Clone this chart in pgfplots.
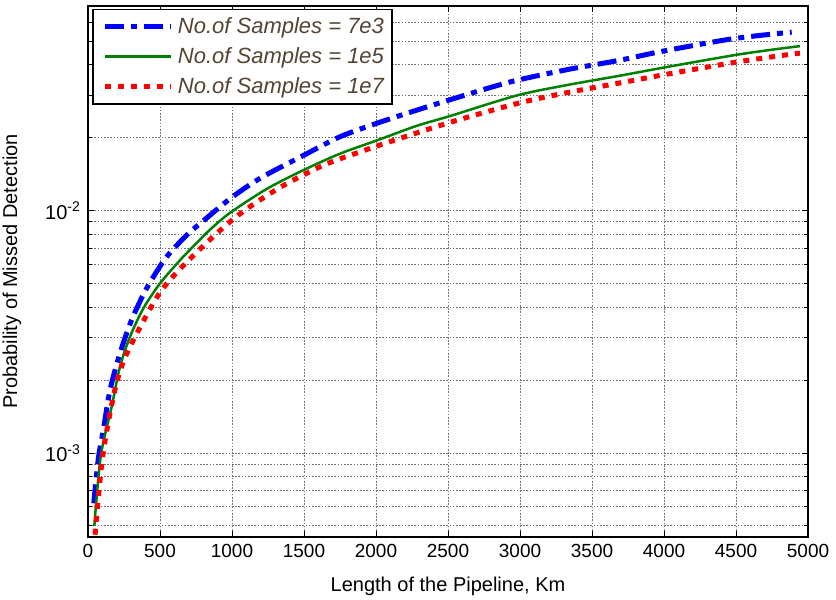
\documentclass[border=0pt]{standalone}
\usepackage{pgfplots}
\pgfplotsset{compat=1.18}
\usepackage{fontspec}
\setmainfont{Liberation Sans}
\usetikzlibrary{calc}
\definecolor{legtext}{RGB}{85,68,51}
\definecolor{mgreen}{RGB}{0,128,0}
\begin{document}
\begin{tikzpicture}
\begin{axis}[
  scale only axis, width=360pt, height=265.5pt,
  xmin=0, xmax=5000, ymin=4.5e-4, ymax=7e-2, ymode=log,
  xtick={0,500,...,5000},
  scaled x ticks=false,
  /pgf/number format/1000 sep={},
  /pgf/number format/assume math mode=true,
  ytick={1e-3,1e-2},
  yticklabels={10\textsuperscript{-3},10\textsuperscript{-2}},
  minor ytick={5e-4,6e-4,7e-4,8e-4,9e-4,2e-3,3e-3,4e-3,5e-3,6e-3,7e-3,8e-3,9e-3,2e-2,3e-2,4e-2,5e-2,6e-2,7e-2},
  grid=both,
  major grid style={dash pattern=on 0.8pt off 0.8pt, black!55, line width=0.5pt},
  minor grid style={dash pattern=on 0.8pt off 0.8pt, black!55, line width=0.5pt},
  tick align=inside,
  major tick length=3pt, minor tick length=2pt,
  tick style={black, line width=0.5pt},
  axis line style={black, line width=0.8pt},
  ticklabel style={font=\fontsize{9.5}{11}\selectfont},
  yticklabel style={font=\fontsize{10}{12}\selectfont},
  xlabel={Length of the Pipeline, Km},
  ylabel={Probability of Missed Detection},
  xlabel style={font=\fontsize{10}{12}\selectfont, at={(axis description cs:0.5,-0.062)}, anchor=north},
  ylabel style={font=\fontsize{10}{12}\selectfont, at={(axis description cs:-0.083,0.5)}, anchor=south},
  legend style={at={(axis description cs:0.006,0.995)}, anchor=north west,
    font=\fontsize{11}{13}\selectfont\itshape, text=legtext,
    draw=black, line width=0.6pt, fill=white, inner sep=2pt, row sep=1.5pt},
  legend cell align=left,
  legend image code/.code={\path (0pt,0pt); \draw[#1] (3pt,0pt) -- (36pt,0pt);},
]
\addplot[blue, line width=2.5pt, dash pattern=on 9.5pt off 3.5pt on 3pt off 3.5pt, smooth] coordinates {
(40,6.2e-4) (72,9.5e-4) (106,1.24e-3) (153,1.82e-3) (222,2.58e-3) (303,3.54e-3)
(407,4.78e-3) (546,6.45e-3) (708,8.18e-3) (778,8.85e-3) (986,1.12e-2) (1194,1.36e-2)
(1495,1.69e-2) (1750,2.02e-2) (2028,2.32e-2) (2282,2.6e-2) (2537,2.9e-2)
(2931,3.4e-2) (3324,3.82e-2) (3683,4.17e-2) (3995,4.56e-2) (4481,5.13e-2) (4887,5.46e-2)
};
\addlegendentry{No.of Samples = 7e3}
\addplot[mgreen, line width=1.25pt, smooth] coordinates {
(44,5.0e-4) (88,9.65e-4) (164,1.55e-3) (222,2.27e-3) (292,3.02e-3) (384,3.95e-3)
(500,5.01e-3) (639,6.25e-3) (708,6.9e-3) (778,7.6e-3) (847,8.35e-3) (986,9.8e-3)
(1241,1.23e-2) (1495,1.47e-2) (1750,1.72e-2) (2005,1.95e-2) (2282,2.24e-2) (2514,2.46e-2)
(2977,2.99e-2) (3324,3.3e-2) (3683,3.6e-2) (4019,3.92e-2) (4481,4.38e-2)
(4713,4.59e-2) (4944,4.78e-2)
};
\addlegendentry{No.of Samples = 1e5}
\addplot[red, line width=2.5pt, dash pattern=on 3pt off 3.5pt, smooth] coordinates {
(49,4.6e-4) (100,9.5e-4) (176,1.71e-3) (245,2.38e-3) (361,3.3e-3) (500,4.6e-3)
(639,5.75e-3) (847,7.6e-3) (986,9.0e-3) (1125,1.04e-2) (1356,1.27e-2) (1634,1.54e-2)
(1889,1.75e-2) (2167,1.99e-2) (2560,2.36e-2) (3000,2.79e-2) (3324,3.07e-2)
(3683,3.36e-2) (4019,3.66e-2) (4505,4.11e-2) (4875,4.42e-2) (4944,4.47e-2)
};
\addlegendentry{No.of Samples = 1e7}
\coordinate (ll) at (rel axis cs:0,0);
\coordinate (ur) at (rel axis cs:1,1);
\end{axis}
\pgfresetboundingbox
\path ($(ll)+(-44pt,-31pt)$) rectangle ($(ur)+(14pt,3pt)$);
\end{tikzpicture}
\end{document}
